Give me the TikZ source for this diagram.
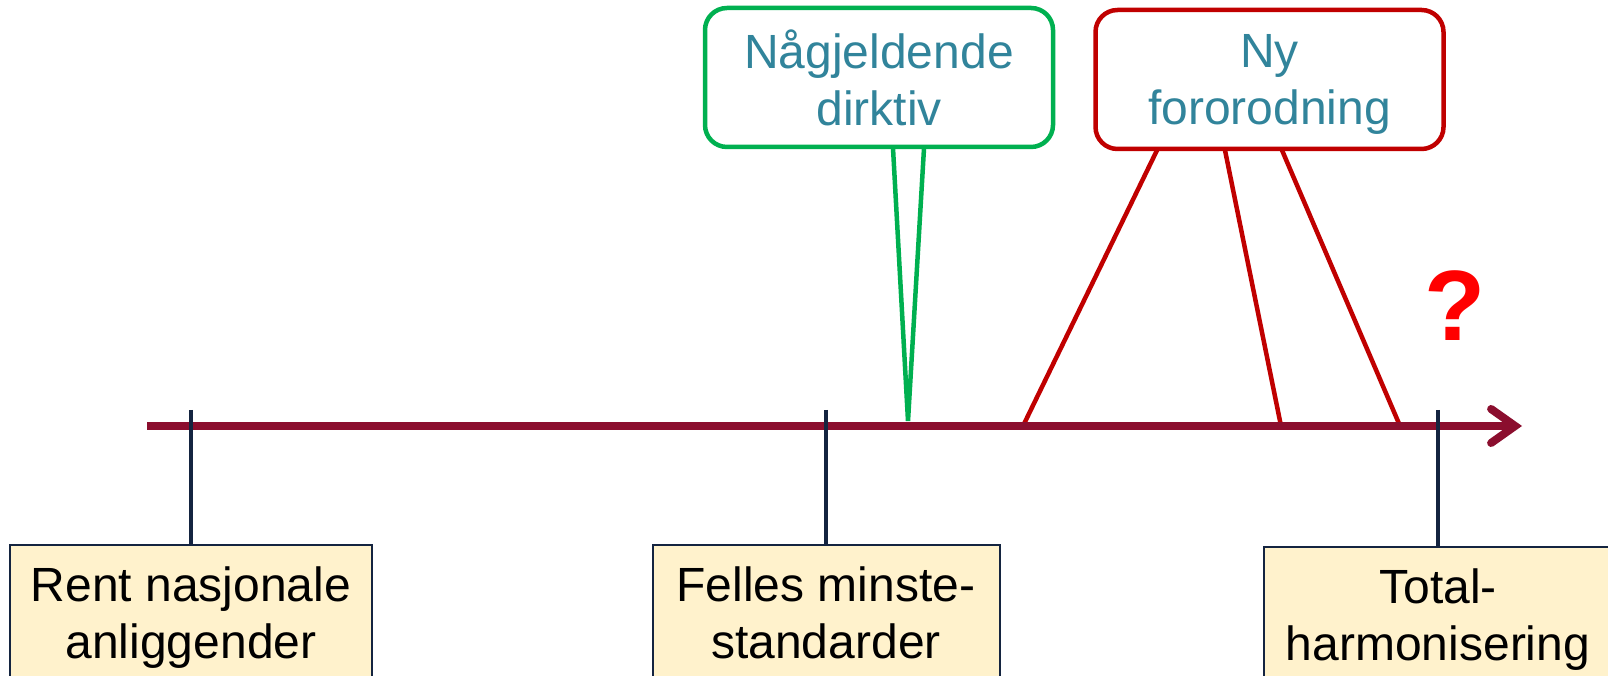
\documentclass[tikz,border=0pt]{standalone}
\usepackage{fontspec}
\setmainfont{Liberation Sans}
\usepackage{tikz}
\usetikzlibrary{arrows.meta}
\definecolor{axisred}{RGB}{139,14,46}
\definecolor{ticknavy}{RGB}{20,36,64}
\definecolor{boxyellow}{RGB}{255,242,204}
\definecolor{callgreen}{RGB}{0,176,80}
\definecolor{callred}{RGB}{192,0,0}
\definecolor{callteal}{RGB}{49,132,155}
\tikzstyle{stage} = [rectangle, anchor=north, inner xsep=0pt, inner ysep=22pt, align=center, text=black, draw=ticknavy, line width=2pt, fill=boxyellow]
\tikzstyle{notebox} = [rectangle, rounded corners=22pt, minimum width=348pt, minimum height=139pt, inner sep=0pt, align=center, text=callteal, line width=4.5pt, fill=white]
\tikzstyle{pointer} = [line width=4.5pt]
\tikzstyle{timeline} = [line width=8pt, axisred, -{Straight Barb[length=24pt,width=34pt,line cap=round]}]
\tikzstyle{tickline} = [line width=4pt, ticknavy]

\begin{document}
\begin{tikzpicture}[x=1pt, y=1pt, font=\fontsize{48}{57}\selectfont]

\useasboundingbox (0,0) rectangle (1608,676);

\node (direktiv) [notebox, draw=callgreen] at (879,598.5) {Någjeldende\\dirktiv};
\node (forordning) [notebox, draw=callred] at (1269.5,596.5) {Ny\\\raisebox{0pt}[\height][0pt]{fororodning}};

\coordinate (start) at (147,250);
\coordinate (end) at (1522,250);
\coordinate (dtip) at (908,255);
\coordinate (ftip1) at (1023,250);
\coordinate (ftip2) at (1281,250);
\coordinate (ftip3) at (1400,250);
\coordinate (t1) at (191,266);
\coordinate (t2) at (826,266);
\coordinate (t3) at (1438,266);

\draw [pointer, callgreen] ([xshift=14pt,yshift=1pt]direktiv.south) -- (dtip) -- ([xshift=45pt,yshift=1pt]direktiv.south);
\draw [pointer, callred] ([xshift=-112.5pt,yshift=1pt]forordning.south) -- (ftip1);
\draw [pointer, callred] ([xshift=-44.5pt,yshift=1pt]forordning.south) -- (ftip2);
\draw [pointer, callred] ([xshift=12.5pt,yshift=1pt]forordning.south) -- (ftip3);

\draw [timeline] (start) -- (end);

\node (nasjonal) [stage, minimum width=362pt] at (191,132) {Rent nasjonale\\anliggender};
\node (minste) [stage, minimum width=347pt] at (826,132) {Felles minste-\\standarder};
\node (total) [stage, minimum width=348pt] at (1438,130) {Total-\\harmonisering};

\draw [tickline] (t1) -- (nasjonal);
\draw [tickline] (t2) -- (minste);
\draw [tickline] (t3) -- (total);

\node (qmark) [text=red, font=\fontsize{100}{100}\selectfont\bfseries] at (1455,370) {?};

\end{tikzpicture}
\end{document}
